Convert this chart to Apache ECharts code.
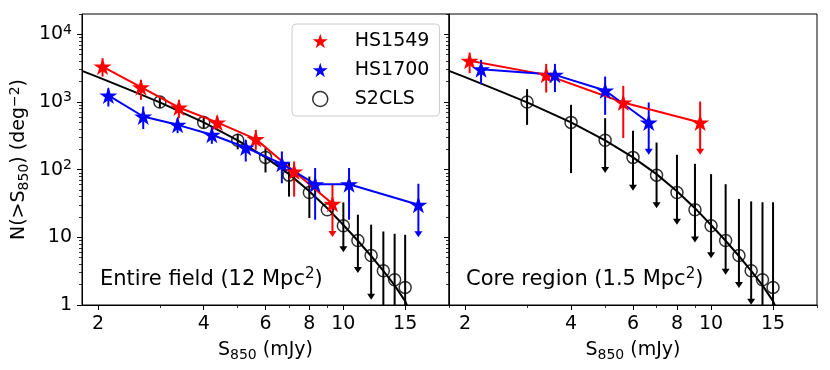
<!DOCTYPE html>
<html>
<head>
<meta charset="utf-8">
<script src="https://cdn.jsdelivr.net/npm/echarts@6/dist/echarts.min.js"></script>
<style>
  html, body { margin: 0; padding: 0; background: #fff; }
  #chart { width: 830px; height: 370px; }
</style>
</head>
<body>
<div id="chart"></div>
<script>
// S2CLS cumulative counts (same points in both panels)
var s2clsFlux = [3, 4, 5, 6, 7, 8, 9, 10, 11, 12, 13, 14, 15];
var s2clsN = [1000, 500, 272, 152, 83, 46, 25.6, 14.8, 9.0, 5.4, 3.2, 2.36, 1.82];
// expected scatter for the entire field
var s2clsLoAll = [820, 410, 200, 91, 40, 19.3, null, 6.0, 2.97, 1.2, 0.3, 0.3, 0.3];
var s2clsHiAll = [1200, 625, 340, 208, 128, 79, null, 32.8, 21.6, 15.4, 12.2, 11.3, 10.9];
var s2clsUpAll = [0, 0, 0, 0, 0, 0, 0, 1, 1, 1, 1, 1, 1];
// expected scatter for the core region
var s2clsLoCore = [460, 89, 89, 49, 27, 15.4, 8.4, 4.9, 2.8, 1.78, 1.01, 0.3, 0.3];
var s2clsHiCore = [1550, 910, 578, 375, 252, 166, 122, 86, 61, 37, 34, 33, 33];
var s2clsUpCore = [0, 0, 1, 1, 1, 1, 1, 1, 1, 1, 1, 1, 1];

// fitted S2CLS counts (black curve)
var fitFlux = [1.8, 2, 2.5, 3, 4, 5, 6, 7, 8, 9, 10, 11, 12, 13, 14, 15, 15.3];
var fitN = [2890, 2330, 1460, 990, 500, 272, 152, 86, 48, 27, 15.2, 8.9, 5.3, 3.2, 1.95, 1.14, 0.9];

// HS1549, entire field
var hs1549Flux = [2.06, 2.65, 3.40, 4.37, 5.63, 7.24, 9.31];
var hs1549N = [3340, 1660, 830, 500, 283, 94, 31.4];
var hs1549Lo = [2380, 1077, 578, 395, 197, 40, 10.1];
var hs1549Hi = [4450, 2120, 1077, 626, 388, 132, 60];
var hs1549Up = [0, 0, 0, 0, 0, 0, 1];

// HS1700, entire field
var hs1700Flux = [2.14, 2.69, 3.37, 4.22, 5.27, 6.68, 8.31, 10.38, 16.36];
var hs1700N = [1250, 611, 460, 328, 213, 122, 61, 61, 30.3];
var hs1700Lo = [859, 398, 347, 241, 132, 63, 18.2, 18.2, 10];
var hs1700Hi = [1600, 859, 578, 426, 276, 186, 106, 106, 62];
var hs1700Up = [0, 0, 0, 0, 0, 0, 0, 0, 1];

// HS1549, core region
var hs1549CoreFlux = [2.06, 3.40, 5.63, 9.31];
var hs1549CoreN = [4060, 2520, 984, 498];
var hs1549CoreLo = [2670, 1380, 293, 166];
var hs1549CoreHi = [5380, 3660, 1735, 1016];
var hs1549CoreUp = [0, 0, 0, 1];

// HS1700, core region
var hs1700CoreFlux = [2.22, 3.60, 5.0, 6.65];
var hs1700CoreN = [3060, 2520, 1480, 498];
var hs1700CoreLo = [1840, 1400, 647, 166];
var hs1700CoreHi = [4200, 3660, 2380, 984];
var hs1700CoreUp = [0, 0, 0, 1];

// ticks
var xMajor = [2, 4, 6, 8, 10, 15];
var xMinor = [3, 5, 7, 9, 20];
var yMajor = [1, 10, 100, 1000, 10000];
var yMajorLabels = ['1', '10', '10{sup|2}', '10{sup|3}', '10{sup|4}'];
var yMinor = [2, 3, 4, 5, 6, 7, 8, 9, 20, 30, 40, 50, 60, 70, 80, 90,
  200, 300, 400, 500, 600, 700, 800, 900, 2000, 3000, 4000, 5000, 6000, 7000, 8000, 9000, 20000];

var FONT = 'DejaVu Sans';
var FS = 19;
var RED = '#ff0000', BLUE = '#0000ff', BLACK = '#000000';
var STAR = 'path://M0,-10L2.245,-3.09L9.511,-3.09L3.633,1.18L5.878,8.09L0,3.82L-5.878,8.09L-3.633,1.18L-9.511,-3.09L-2.245,-3.09Z';

function zip(a, b) {
  return a.map(function (v, i) { return [v, b[i]]; });
}
function errData(xs, lo, hi, up) {
  var out = [];
  xs.forEach(function (x, i) {
    if (lo[i] == null) return;
    out.push([x, lo[i], hi[i], up[i]]);
  });
  return out;
}

function errRender(color) {
  return function (params, api) {
    var x = api.value(0);
    var top = api.coord([x, api.value(2)]);
    var bot = api.coord([x, api.value(1)]);
    var kids = [{
      type: 'line',
      shape: { x1: top[0], y1: top[1], x2: bot[0], y2: api.value(3) ? bot[1] - 4 : bot[1] },
      style: { stroke: color, lineWidth: 2 }
    }];
    if (api.value(3)) {
      kids.push({
        type: 'polygon',
        shape: { points: [[bot[0] - 4, bot[1] - 6], [bot[0] + 4, bot[1] - 6], [bot[0], bot[1]]] },
        style: { fill: color }
      });
    }
    return { type: 'group', children: kids };
  };
}

function errSeries(g, color, data) {
  return {
    type: 'custom', xAxisIndex: g, yAxisIndex: g, clip: true, silent: true, z: 3,
    renderItem: errRender(color), data: data
  };
}
function starSeries(g, name, color, xs, ys) {
  return {
    type: 'line', name: name, xAxisIndex: g, yAxisIndex: g, z: 4,
    data: zip(xs, ys), symbol: STAR, symbolSize: [18, 17], showSymbol: true,
    lineStyle: { color: color, width: 2 }, itemStyle: { color: color },
    emphasis: { disabled: true }
  };
}

var sub = { fontSize: 14, lineHeight: 14, verticalAlign: 'bottom', fontFamily: FONT, color: BLACK };
var sup = { fontSize: 14, lineHeight: 14, verticalAlign: 'top', fontFamily: FONT, color: BLACK };

function xAxes(g, minor) {
  return {
    type: 'log', logBase: 10, gridIndex: g, min: 1.8, max: 20, position: 'bottom',
    axisLine: { show: !minor, lineStyle: { color: BLACK, width: 1 } },
    axisTick: { show: true, customValues: minor ? xMinor : xMajor, length: minor ? 3 : 5,
      lineStyle: { color: BLACK, width: minor ? 0.8 : 1 } },
    axisLabel: minor ? { show: false } : {
      customValues: xMajor, margin: 10, fontSize: FS, fontFamily: FONT, color: BLACK,
      formatter: function (v) { return String(Math.round(v)); }
    },
    splitLine: { show: false },
    name: minor ? '' : 'S{sub|850} (mJy)', nameLocation: 'middle', nameGap: 33,
    nameTextStyle: { fontSize: FS, fontFamily: FONT, color: BLACK, lineHeight: 23, rich: { sub: sub } }
  };
}
function yAxes(g, minor) {
  var showLabels = (g === 0 && !minor);
  return {
    type: 'log', logBase: 10, gridIndex: g, min: 1, max: 20000, position: 'left',
    axisLine: { show: !minor, lineStyle: { color: BLACK, width: 1 } },
    axisTick: { show: true, customValues: minor ? yMinor : yMajor, length: minor ? 3 : 5,
      lineStyle: { color: BLACK, width: minor ? 0.8 : 1 } },
    axisLabel: showLabels ? {
      customValues: yMajor, margin: 10, fontSize: FS, fontFamily: FONT, color: BLACK, lineHeight: 23,
      formatter: function (v) { return yMajorLabels[Math.round(Math.log10(v))]; },
      rich: { sup: sup }
    } : { show: false },
    splitLine: { show: false },
    name: showLabels ? 'N(>S{sub|850}) (deg{sup|\u22122})' : '',
    nameLocation: 'middle', nameGap: 51, nameRotate: 90,
    nameTextStyle: { fontSize: FS, fontFamily: FONT, color: BLACK, lineHeight: 23, rich: { sub: sub, sup: sup } }
  };
}

var chart = echarts.init(document.getElementById('chart'), null, { renderer: 'canvas' });

var noteStyle = {
  fontSize: 21, fontWeight: 'normal', fontFamily: FONT, color: BLACK, lineHeight: 26,
  rich: { sup: { fontSize: 15, lineHeight: 15, verticalAlign: 'top', fontFamily: FONT, color: BLACK } }
};

var option = {
  animation: false,
  backgroundColor: '#ffffff',
  textStyle: { fontFamily: FONT },
  grid: [
    { left: 82, top: 14, width: 367, height: 291, show: true, borderColor: BLACK, borderWidth: 1,
      backgroundColor: 'transparent', containLabel: false, outerBoundsMode: 'none' },
    { left: 449, top: 14, width: 368, height: 291, show: true, borderColor: BLACK, borderWidth: 1,
      backgroundColor: 'transparent', containLabel: false, outerBoundsMode: 'none' }
  ],
  xAxis: [xAxes(0, false), xAxes(1, false), xAxes(0, true), xAxes(1, true)],
  yAxis: [yAxes(0, false), yAxes(1, false), yAxes(0, true), yAxes(1, true)],
  title: [
    { text: 'Entire field (12 Mpc{sup|2})', left: 95, top: 262, textStyle: noteStyle },
    { text: 'Core region (1.5 Mpc{sup|2})', left: 461, top: 262, textStyle: noteStyle }
  ],
  legend: {
    orient: 'vertical', left: 292, top: 24, padding: [7, 10, 7, 20],
    backgroundColor: 'rgba(255,255,255,0.8)', borderColor: '#cccccc', borderWidth: 1, borderRadius: 4,
    itemWidth: 15, itemHeight: 15, itemGap: 9, selectedMode: false,
    textStyle: { fontSize: FS, fontFamily: FONT, color: BLACK, lineHeight: 20, padding: [0, 0, 0, 22] },
    data: [
      { name: 'HS1549', icon: STAR, itemStyle: { color: RED } },
      { name: 'HS1700', icon: STAR, itemStyle: { color: BLUE } },
      { name: 'S2CLS', icon: 'circle', itemStyle: { color: 'rgba(0,0,0,0)', borderColor: BLACK, borderWidth: 1.5 } }
    ]
  },
  series: []
};

[0, 1].forEach(function (g) {
  var core = g === 1;
  option.series.push({
    type: 'line', name: 'fit', xAxisIndex: g, yAxisIndex: g, z: 2, silent: true,
    data: zip(fitFlux, fitN), showSymbol: false, symbol: 'none', clip: true,
    lineStyle: { color: BLACK, width: 2 }
  });
  option.series.push(errSeries(g, BLACK, core
    ? errData(s2clsFlux, s2clsLoCore, s2clsHiCore, s2clsUpCore)
    : errData(s2clsFlux, s2clsLoAll, s2clsHiAll, s2clsUpAll)));
  option.series.push({
    type: 'scatter', name: 'S2CLS', xAxisIndex: g, yAxisIndex: g, z: 3,
    data: zip(s2clsFlux, s2clsN), symbol: 'circle', symbolSize: 12,
    itemStyle: { color: 'rgba(0,0,0,0)', borderColor: BLACK, borderWidth: 1.5 },
    emphasis: { disabled: true }
  });
  option.series.push(errSeries(g, RED, core
    ? errData(hs1549CoreFlux, hs1549CoreLo, hs1549CoreHi, hs1549CoreUp)
    : errData(hs1549Flux, hs1549Lo, hs1549Hi, hs1549Up)));
  option.series.push(core
    ? starSeries(g, 'HS1549', RED, hs1549CoreFlux, hs1549CoreN)
    : starSeries(g, 'HS1549', RED, hs1549Flux, hs1549N));
  option.series.push(errSeries(g, BLUE, core
    ? errData(hs1700CoreFlux, hs1700CoreLo, hs1700CoreHi, hs1700CoreUp)
    : errData(hs1700Flux, hs1700Lo, hs1700Hi, hs1700Up)));
  option.series.push(core
    ? starSeries(g, 'HS1700', BLUE, hs1700CoreFlux, hs1700CoreN)
    : starSeries(g, 'HS1700', BLUE, hs1700Flux, hs1700N));
});

chart.setOption(option);
</script>
</body>
</html>
